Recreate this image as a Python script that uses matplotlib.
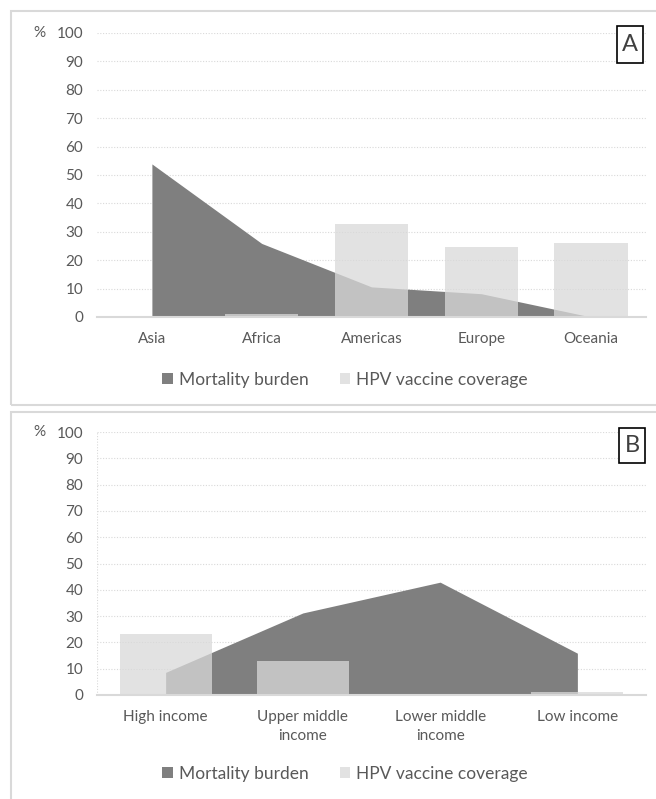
import matplotlib
matplotlib.use("Agg")
import matplotlib.pyplot as plt
from matplotlib.patches import Rectangle, Patch
import numpy as np

plt.rcParams['font.family'] = ['Lato', 'DejaVu Sans']

# panel A - by region
regions = ['Asia', 'Africa', 'Americas', 'Europe', 'Oceania']
mort_region = [53.9, 25.9, 10.6, 8.2, 0.0]
hpv_region = [0.0, 1.2, 32.9, 24.7, 26.1]

# panel B - by income group
income = ['High income', 'Upper middle\nincome', 'Lower middle\nincome', 'Low income']
mort_income = [8.6, 31.2, 42.9, 15.9]
hpv_income = [23.2, 13.0, 0.0, 1.0]

yticks = np.arange(0, 101, 10)

txt = '#595959'
dark = '#7f7f7f'
light = '#d9d9d9'

W, H = 656, 799
fig = plt.figure(figsize=(W / 100, H / 100), dpi=100)

# panel frames
for (x0, y0, x1, y1) in [(11, 11, 700, 405), (11, 412, 700, 850)]:
    fig.patches.append(Rectangle((x0 / W, 1 - y1 / H), (x1 - x0) / W, (y1 - y0) / H,
                                 transform=fig.transFigure, fill=False,
                                 edgecolor='#d9d9d9', lw=1.5))


def draw_panel(rect, cats, mort, hpv, letter, box, leg_xy, vgrid=False):
    ax = fig.add_axes(rect)
    x = np.arange(len(cats))
    ax.fill_between(x, mort, 0, color=dark, lw=0, zorder=2)
    ax.bar(x, hpv, width=0.67, color=light, alpha=0.75, lw=0, zorder=3)
    ax.set_xlim(-0.5, len(cats) - 0.5)
    ax.set_ylim(0, 100)
    ax.set_yticks(yticks)
    ax.set_xticks(x)
    ax.set_xticklabels(cats, fontsize=11, color=txt, linespacing=1.4)
    ax.tick_params(axis='y', length=0, pad=10, labelsize=11, labelcolor=txt)
    ax.tick_params(axis='x', length=0, pad=11)
    ax.grid(axis='y', color='#d9d9d9', ls=(0, (1, 1.5)), lw=0.8, zorder=0)
    for s in ['left', 'right', 'top']:
        ax.spines[s].set_visible(False)
    ax.spines['bottom'].set_color('#d9d9d9')
    ax.spines['bottom'].set_linewidth(1.5)
    ax.spines['bottom'].set_zorder(4)
    if vgrid:
        ax.axvline(-0.5, color='#d9d9d9', ls=(0, (1, 1.5)), lw=0.8, zorder=0)
    ax.text(33 / W, 100, '%', transform=ax.get_yaxis_transform().__class__(fig.transFigure, ax.transData),
            fontsize=11, color=txt, ha='left', va='center')
    bx0, by0, bx1, by1 = box
    fig.patches.append(Rectangle((bx0 / W, 1 - by1 / H), (bx1 - bx0) / W, (by1 - by0) / H,
                                 transform=fig.transFigure, facecolor='white',
                                 edgecolor='black', lw=1.2, zorder=5))
    fig.text((bx0 + bx1) / 2 / W, 1 - (by0 + by1) / 2 / H, letter, fontsize=17,
             color='#404040', ha='center', va='center', zorder=6)
    handles = [Patch(facecolor=dark, edgecolor='none', label='Mortality burden'),
               Patch(facecolor='#e2e2e2', edgecolor='none', label='HPV vaccine coverage')]
    fig.legend(handles=handles, loc='center', bbox_to_anchor=(leg_xy[0] / W, 1 - leg_xy[1] / H),
               ncol=2, frameon=False, fontsize=12.5, labelcolor=txt,
               handlelength=0.6, handleheight=0.6, handletextpad=0.35, columnspacing=1.8)
    return ax


draw_panel([97 / W, 1 - 317 / H, 549 / W, 284 / H], regions, mort_region, hpv_region,
           'A', (617, 26, 643, 63), (345, 380))
draw_panel([97 / W, 1 - 695 / H, 549 / W, 263 / H], income, mort_income, hpv_income,
           'B', (619, 428, 645, 463), (345, 774), vgrid=True)

fig.savefig('out.png', dpi=100)
